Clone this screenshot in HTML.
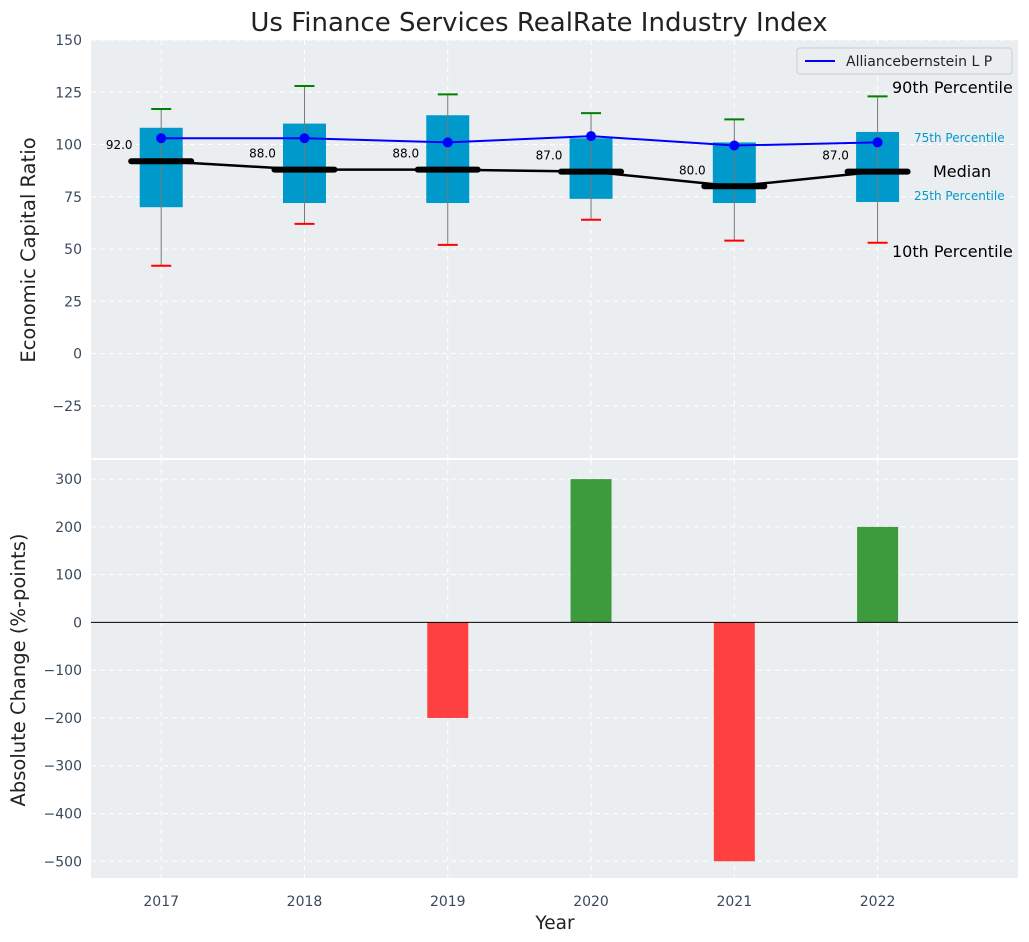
<!DOCTYPE html>
<html><head><meta charset="utf-8"><style>
body{margin:0;background:#fff;}
svg{display:block;font-family:"DejaVu Sans","Liberation Sans",sans-serif;}
</style></head><body>
<svg id="c" width="1029" height="942"></svg>
<script>
const years=[2017,2018,2019,2020,2021,2022];
const p10=[42,62,52,64,54,53];
const p25=[70,72,72,74,72,72.5];
const medians=[92,88,88,87,80,87];
const p75=[108,110,114,103,101,106];
const p90=[117,128,124,115,112,123];
const company=[103,103,101,104,99.5,101];
const changes=[0,0,-200,300,-500,200];
const topTicks=[-25,0,25,50,75,100,125,150];
const botTicks=[-500,-400,-300,-200,-100,0,100,200,300];

const NS="http://www.w3.org/2000/svg";
const svg=document.getElementById('c');
function el(tag,attrs,txt,name){const e=document.createElementNS(NS,tag);for(const k in attrs)e.setAttribute(k,attrs[k]);if(txt!==undefined&&txt!==null)e.textContent=txt;


svg.appendChild(e);return e;}
const L=91,R=1018,X0=2016.51,X1=2022.98;
const x=v=>L+(v-X0)/(X1-X0)*(R-L);
const T1=40,B1=458,yT=v=>T1+(150-v)/200*(B1-T1);
const T2=460,B2=878,yB=v=>T2+(340-v)/875*(B2-T2);

el('rect',{x:L,y:T1,width:R-L,height:B1-T1,fill:'#eaeef0'},null,'top-plot-area');
el('rect',{x:L,y:T2,width:R-L,height:B2-T2,fill:'#eaeef0'},null,'bottom-plot-area');
topTicks.forEach(t=>{const y=yT(t);el('line',{x1:L,x2:R,y1:y,y2:y,stroke:'#fff','stroke-dasharray':'5,4','stroke-width':1},null,'grid-line');
el('text',{x:82,y:y+5,'text-anchor':'end','font-size':14,fill:'#3a4a5e'},String(t).replace('-','−'),'y-tick-label');});
botTicks.forEach(t=>{const y=yB(t);el('line',{x1:L,x2:R,y1:y,y2:y,stroke:'#fff','stroke-dasharray':'5,4','stroke-width':1},null,'grid-line');
el('text',{x:82,y:y+5,'text-anchor':'end','font-size':14,fill:'#3a4a5e'},String(t).replace('-','−'),'y-tick-label');});
years.forEach(yr=>{const X=x(yr);
el('line',{x1:X,x2:X,y1:T1,y2:B1,stroke:'#fff','stroke-dasharray':'5,4'},null,'grid-line');
el('line',{x1:X,x2:X,y1:T2,y2:B2,stroke:'#fff','stroke-dasharray':'5,4'},null,'grid-line');
el('text',{x:X,y:906,'text-anchor':'middle','font-size':14,fill:'#3a4a5e'},yr,'x-tick-label');});
const bw=(R-L)/(X1-X0)*0.3;
years.forEach((yr,i)=>{const X=x(yr);
el('rect',{x:X-bw/2,y:yT(p75[i]),width:bw,height:yT(p25[i])-yT(p75[i]),fill:'#0099cc'},null,'box-'+yr);
el('line',{x1:X,x2:X,y1:yT(p10[i]),y2:yT(p90[i]),stroke:'#777','stroke-width':1},null,'whisker');
el('line',{x1:X-10,x2:X+10,y1:yT(p90[i]),y2:yT(p90[i]),stroke:'green','stroke-width':2},null,'p90-cap');
el('line',{x1:X-10,x2:X+10,y1:yT(p10[i]),y2:yT(p10[i]),stroke:'red','stroke-width':2},null,'p10-cap');
});
el('polyline',{points:years.map((yr,i)=>x(yr)+','+yT(medians[i])).join(' '),fill:'none',stroke:'#000','stroke-width':2.5},null,'median-line');
years.forEach((yr,i)=>{const X=x(yr),Y=yT(medians[i]);
el('line',{x1:X-30,x2:X+30,y1:Y,y2:Y,stroke:'#000','stroke-width':6,'stroke-linecap':'round'},null,'median-marker');
el('text',{x:X-42,y:Y-12,'text-anchor':'middle','font-size':12,fill:'#000'},medians[i].toFixed(1),'median-label');});
el('polyline',{points:years.map((yr,i)=>x(yr)+','+yT(company[i])).join(' '),fill:'none',stroke:'#0000ff','stroke-width':2},null,'company-line');
years.forEach((yr,i)=>el('circle',{cx:x(yr),cy:yT(company[i]),r:5,fill:'#0000ff'},null,'company-point'));
el('text',{x:892,y:93,'font-size':16,fill:'#000'},'90th Percentile','p90-annotation');
el('text',{x:914,y:142,'font-size':12,fill:'#0099cc'},'75th Percentile','p75-annotation');
el('text',{x:933,y:177,'font-size':16,fill:'#000'},'Median','median-annotation');
el('text',{x:914,y:200,'font-size':12,fill:'#0099cc'},'25th Percentile','p25-annotation');
el('text',{x:892,y:257,'font-size':16,fill:'#000'},'10th Percentile','p10-annotation');
el('rect',{x:797,y:48,width:215,height:26,rx:3,fill:'#eaeef0',stroke:'#ccc'},null,'legend');
el('line',{x1:805,x2:835,y1:61,y2:61,stroke:'#0000ff','stroke-width':2},null,'legend-swatch');
el('text',{x:846,y:66,'font-size':14,fill:'#222'},'Alliancebernstein L P','legend-entry');
years.forEach((yr,i)=>{const v=changes[i];if(v===0)return;const X=x(yr);
el('rect',{x:X-20.5,y:Math.min(yB(v),yB(0)),width:41,height:Math.abs(yB(v)-yB(0)),fill:v>0?'#3d9b3d':'#ff4040'},null,'bar-'+yr);});
el('line',{x1:L,x2:R,y1:yB(0),y2:yB(0),stroke:'#000','stroke-width':1},null,'zero-line');
el('text',{x:539,y:31,'text-anchor':'middle','font-size':26,fill:'#222'},'Us Finance Services RealRate Industry Index','chart-title');
el('text',{x:555,y:929,'text-anchor':'middle','font-size':18.5,fill:'#222'},'Year','x-axis-title');
el('text',{x:0,y:0,'text-anchor':'middle','font-size':19.5,fill:'#222',transform:'translate(35,250) rotate(-90)'},'Economic Capital Ratio','top-y-axis-title');
el('text',{x:0,y:0,'text-anchor':'middle','font-size':19.5,fill:'#222',transform:'translate(25,670) rotate(-90)'},'Absolute Change (%-points)','bottom-y-axis-title');
</script>
</body></html>
